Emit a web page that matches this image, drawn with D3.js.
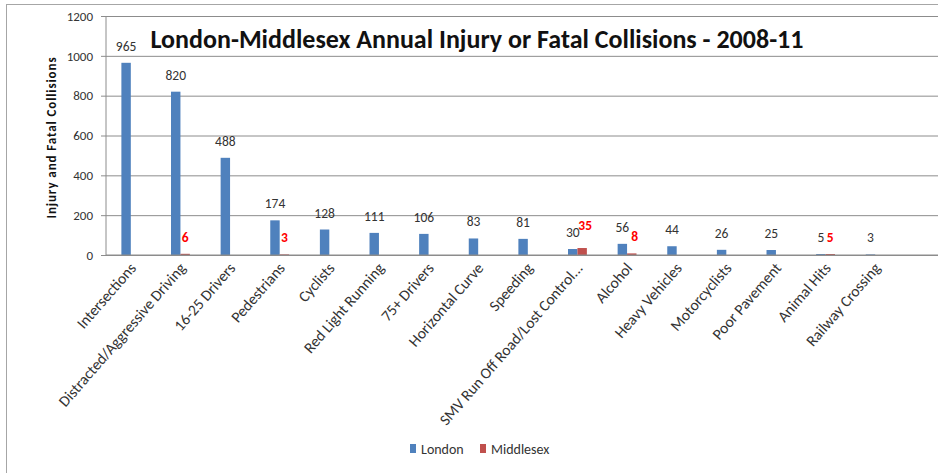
<!DOCTYPE html>
<html lang="en">
<head>
  <meta charset="UTF-8">
  <script src="https://cdn.jsdelivr.net/npm/d3@7"></script>
  <title>London-Middlesex Collisions</title>
  <style>
    body { margin: 0; background: #fff; }
    svg text { font-family: Carlito, Lato, "Open Sans", sans-serif; }
  </style>
</head>
<body>
  <div id="chart"></div>
  <script>
    // ---------------- data ----------------
    const categories = ["Intersections", "Distracted/Aggressive Driving", "16-25 Drivers", "Pedestrians",
      "Cyclists", "Red Light Running", "75+ Drivers", "Horizontal Curve", "Speeding",
      "SMV Run Off Road/Lost Control...", "Alcohol", "Heavy Vehicles", "Motorcyclists",
      "Poor Pavement", "Animal Hits", "Railway Crossing"];
    const london = [965, 820, 488, 174, 128, 111, 106, 83, 81, 30, 56, 44, 26, 25, 5, 3];
    // null = no value shown for Middlesex
    const middlesex = [null, 6, null, 3, null, null, null, null, null, 35, 8, null, null, null, 5, null];
    const seriesNames = ["London", "Middlesex"];
    const yTicks = [0, 200, 400, 600, 800, 1000, 1200];

    // ---------------- layout ----------------
    const width = 938, height = 473;
    const margin = { left: 106, top: 16, right: 38, bottom: 218 };
    const colors = ["#4f81bd", "#c0504d"];

    const svg = d3.select("#chart").append("svg")
      .attr("width", width)
      .attr("height", height);

    // outer frame of the chart object
    svg.append("rect")
      .attr("x", 6.5).attr("y", 4.5)
      .attr("width", width).attr("height", height)
      .attr("fill", "none")
      .attr("stroke", "#a6a6a6");

    const x = d3.scaleBand()
      .domain(categories)
      .range([margin.left, width - margin.right])
      .paddingInner(0.62)
      .paddingOuter(0.31);

    const xSub = d3.scaleBand()
      .domain(seriesNames)
      .range([0, x.bandwidth()]);

    const y = d3.scaleLinear()
      .domain([0, 1200])
      .range([height - margin.bottom, margin.top]);

    // gridlines + y axis
    const yAxis = d3.axisLeft(y)
      .tickValues(yTicks)
      .tickFormat(d3.format("d"))
      .tickSize(-(width - margin.left))
      .tickPadding(13);

    const gy = svg.append("g")
      .attr("transform", `translate(${margin.left},0)`)
      .call(yAxis);
    gy.select(".domain").remove();
    gy.selectAll(".tick line")
      .attr("x1", -5)
      .attr("stroke", "#8c8c8c");
    gy.selectAll(".tick text")
      .attr("fill", "#333")
      .style("font-size", "13px");

    svg.append("line")
      .attr("x1", margin.left).attr("x2", margin.left)
      .attr("y1", y(1200)).attr("y2", y(0))
      .attr("stroke", "#8c8c8c");

    svg.append("text")
      .attr("transform", `translate(56,137.5) rotate(-90)`)
      .attr("text-anchor", "middle")
      .style("font-size", "13px")
      .style("font-weight", "bold")
      .style("letter-spacing", "0.9px")
      .attr("fill", "#111")
      .text("Injury and Fatal Collisions");

    // title
    svg.append("text")
      .attr("x", 477)
      .attr("y", 48)
      .attr("text-anchor", "middle")
      .style("font-size", "26px")
      .style("font-weight", "bold")
      .attr("fill", "#111")
      .text("London-Middlesex Annual Injury or Fatal Collisions - 2008-11");

    // bars
    const rows = categories.map((c, i) => ({ cat: c, values: [london[i], middlesex[i]] }));

    const groups = svg.append("g").selectAll("g")
      .data(rows)
      .join("g")
      .attr("transform", d => `translate(${x(d.cat)},0)`);

    groups.selectAll("rect")
      .data(d => d.values.map((v, k) => ({ v, k })).filter(e => e.v !== null))
      .join("rect")
      .attr("x", e => xSub(seriesNames[e.k]))
      .attr("width", xSub.bandwidth())
      .attr("y", e => y(e.v))
      .attr("height", e => y(0) - y(e.v))
      .attr("fill", e => colors[e.k]);

    // data labels
    groups.selectAll("text")
      .data(d => d.values.map((v, k) => ({ v, k, pair: d.values })).filter(e => e.v !== null))
      .join("text")
      .attr("x", e => xSub(seriesNames[e.k]) + xSub.bandwidth() / 2 + (e.k === 1 && e.pair[0] > 20 && e.pair[0] < 60 ? 3 : 0))
      .attr("y", e => y(e.v) - 12 - (e.k === 1 && e.pair[1] > 20 ? 6 : 0))
      .attr("text-anchor", "middle")
      .style("font-size", "13.5px")
      .style("font-weight", e => e.k === 1 ? "bold" : "normal")
      .attr("fill", e => e.k === 1 ? "#ff0000" : "#333")
      .text(e => e.v);

    // x axis baseline and labels
    svg.append("line")
      .attr("x1", margin.left).attr("x2", width)
      .attr("y1", y(0)).attr("y2", y(0))
      .attr("stroke", "#8c8c8c");

    svg.append("g").selectAll("text")
      .data(categories)
      .join("text")
      .attr("transform", d => `translate(${x(d) + x.bandwidth() / 2 + 2},${y(0) + 10}) rotate(-49)`)
      .attr("text-anchor", "end")
      .attr("dy", "0.35em")
      .style("font-size", "15.5px")
      .attr("fill", "#333")
      .text(d => d);

    // legend
    const legend = svg.append("g")
      .attr("transform", "translate(410,449)");
    const legendX = [0, 70];
    seriesNames.forEach((name, i) => {
      legend.append("rect")
        .attr("x", legendX[i]).attr("y", -5)
        .attr("width", 6).attr("height", 9)
        .attr("fill", colors[i]);
      legend.append("text")
        .attr("x", legendX[i] + 11).attr("y", 0)
        .attr("dy", "0.35em")
        .style("font-size", "14px")
        .attr("fill", "#333")
        .text(name);
    });
  </script>
</body>
</html>
